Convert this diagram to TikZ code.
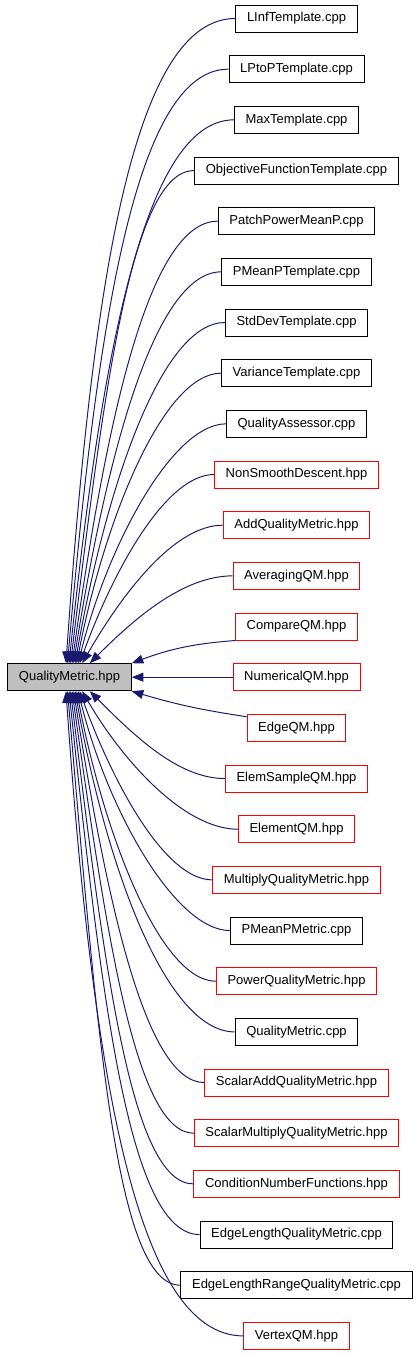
\documentclass[tikz,border=0pt]{standalone}
\usepackage{fontspec}
\setmainfont{Liberation Sans}
\usepackage{xcolor}
\usepackage{tikz}
\usetikzlibrary{arrows.meta}
\definecolor{depblue}{HTML}{191970}
\definecolor{hdred}{HTML}{FF0000}
\definecolor{curgray}{HTML}{BFBFBF}

\begin{document}
\begin{tikzpicture}[
  font=\fontsize{7.3}{8.8}\selectfont,
  fl/.style={draw, line width=0.55pt, minimum height=5.33mm, inner xsep=2.2mm, inner ysep=0pt},
  hd/.style={fl, draw=hdred},
  cur/.style={fl, fill=curgray},
  dep/.style={depblue, line width=0.55pt, -{Triangle[length=6.5pt,width=5pt]}}]
\useasboundingbox (0,0.365) rectangle (8.269,-26.377);
% files including QualityMetric.hpp (right column)
\node[fl] (linf) at (5.852,0) {LInfTemplate.cpp};
\node[fl] (lptop) at (5.852,-1) {LPtoPTemplate.cpp};
\node[fl] (maxt) at (5.852,-2) {MaxTemplate.cpp};
\node[fl] (objf) at (5.852,-3) {ObjectiveFunctionTemplate.cpp};
\node[fl] (ppm) at (5.852,-4) {PatchPowerMeanP.cpp};
\node[fl] (pmpt) at (5.852,-5) {PMeanPTemplate.cpp};
\node[fl] (sdev) at (5.852,-6) {StdDevTemplate.cpp};
\node[fl] (vart) at (5.852,-7) {VarianceTemplate.cpp};
\node[fl] (qass) at (5.852,-8) {QualityAssessor.cpp};
\node[hd] (nsd) at (5.852,-9) {NonSmoothDescent.hpp};
\node[hd] (addqm) at (5.852,-10) {AddQualityMetric.hpp};
\node[hd] (avgqm) at (5.852,-11) {AveragingQM.hpp};
\node[hd] (cmpqm) at (5.852,-12) {CompareQM.hpp};
\node[hd] (numqm) at (5.852,-13) {NumericalQM.hpp};
\node[hd] (edgeqm) at (5.852,-14) {EdgeQM.hpp};
\node[hd] (esqm) at (5.852,-15) {ElemSampleQM.hpp};
\node[hd] (elqm) at (5.852,-16) {ElementQM.hpp};
\node[hd] (mulqm) at (5.852,-17) {MultiplyQualityMetric.hpp};
\node[fl] (pmpm) at (5.852,-18) {PMeanPMetric.cpp};
\node[hd] (powqm) at (5.852,-19) {PowerQualityMetric.hpp};
\node[fl] (qmcpp) at (5.852,-20) {QualityMetric.cpp};
\node[hd] (saqm) at (5.852,-21) {ScalarAddQualityMetric.hpp};
\node[hd] (smqm) at (5.852,-22) {ScalarMultiplyQualityMetric.hpp};
\node[hd] (cnf) at (5.852,-23) {ConditionNumberFunctions.hpp};
\node[fl] (elqmc) at (5.852,-24) {EdgeLengthQualityMetric.cpp};
\node[fl] (elrqm) at (5.852,-25) {EdgeLengthRangeQualityMetric.cpp};
\node[hd] (vtxqm) at (5.852,-26) {VertexQM.hpp};
% the header itself (left)
\node[cur] (qm) at (1.372,-13) {QualityMetric.hpp};
% upper edges into the top of the box
\draw[dep] (linf.west) .. controls +(-2.00,0) and +(0.53,7.64) .. ([xshift=-0.07cm]qm.north);
\draw[dep] (lptop.west) .. controls +(-1.81,0) and +(0.60,6.90) .. ([xshift=-0.04cm]qm.north);
\draw[dep] (maxt.west) .. controls +(-1.75,0) and +(0.65,6.19) .. ([xshift=-0.01cm]qm.north);
\draw[dep] (objf.west) .. controls +(-1.23,0) and +(0.67,5.49) .. ([xshift=0.02cm]qm.north);
\draw[dep] (ppm.west) .. controls +(-1.36,0) and +(0.68,4.82) .. ([xshift=0.05cm]qm.north);
\draw[dep] (pmpt.west) .. controls +(-1.30,0) and +(0.66,4.18) .. ([xshift=0.08cm]qm.north);
\draw[dep] (sdev.west) .. controls +(-1.24,0) and +(0.63,3.56) .. ([xshift=0.11cm]qm.north);
\draw[dep] (vart.west) .. controls +(-1.11,0) and +(0.58,2.96) .. ([xshift=0.14cm]qm.north);
\draw[dep] (qass.west) .. controls +(-1.04,0) and +(0.60,2.39) .. ([xshift=0.17cm]qm.north);
\draw[dep] (nsd.west) .. controls +(-0.94,0) and +(0.68,1.87) .. ([xshift=0.20cm]qm.north);
\draw[dep] (addqm.west) .. controls +(-0.96,0) and +(0.79,1.37) .. ([xshift=0.25cm]qm.north);
\draw[dep] (avgqm.west) .. controls +(-0.98,0) and +(0.87,0.87) .. ([xshift=0.40cm]qm.north);
% middle edges
\draw[dep] (cmpqm.south west) to[bend right=8] (qm.north east);
\draw[dep] (numqm) -- (qm);
\draw[dep] ([yshift=0.22cm]edgeqm.west) to[bend left=4] (qm.south east);
% lower edges into the bottom of the box
\draw[dep] (esqm.west) .. controls +(-0.93,0) and +(0.86,-0.86) .. ([xshift=0.40cm]qm.south);
\draw[dep] (elqm.west) .. controls +(-1.07,0) and +(0.79,-1.36) .. ([xshift=0.25cm]qm.south);
\draw[dep] (mulqm.west) .. controls +(-0.92,0) and +(0.68,-1.87) .. ([xshift=0.20cm]qm.south);
\draw[dep] (pmpm.west) .. controls +(-1.07,0) and +(0.59,-2.38) .. ([xshift=0.17cm]qm.south);
\draw[dep] (powqm.west) .. controls +(-1.07,0) and +(0.57,-2.95) .. ([xshift=0.14cm]qm.south);
\draw[dep] (qmcpp.west) .. controls +(-1.33,0) and +(0.63,-3.55) .. ([xshift=0.11cm]qm.south);
\draw[dep] (saqm.west) .. controls +(-1.16,0) and +(0.66,-4.17) .. ([xshift=0.08cm]qm.south);
\draw[dep] (smqm.west) .. controls +(-1.15,0) and +(0.68,-4.82) .. ([xshift=0.05cm]qm.south);
\draw[dep] (cnf.west) .. controls +(-1.23,0) and +(0.67,-5.49) .. ([xshift=0.02cm]qm.south);
\draw[dep] (elqmc.west) .. controls +(-1.39,0) and +(0.65,-6.18) .. ([xshift=-0.01cm]qm.south);
\draw[dep] (elrqm.west) .. controls +(-1.27,0) and +(0.60,-6.90) .. ([xshift=-0.04cm]qm.south);
\draw[dep] (vtxqm.west) .. controls +(-2.10,0) and +(0.53,-7.64) .. ([xshift=-0.07cm]qm.south);
\end{tikzpicture}
\end{document}
